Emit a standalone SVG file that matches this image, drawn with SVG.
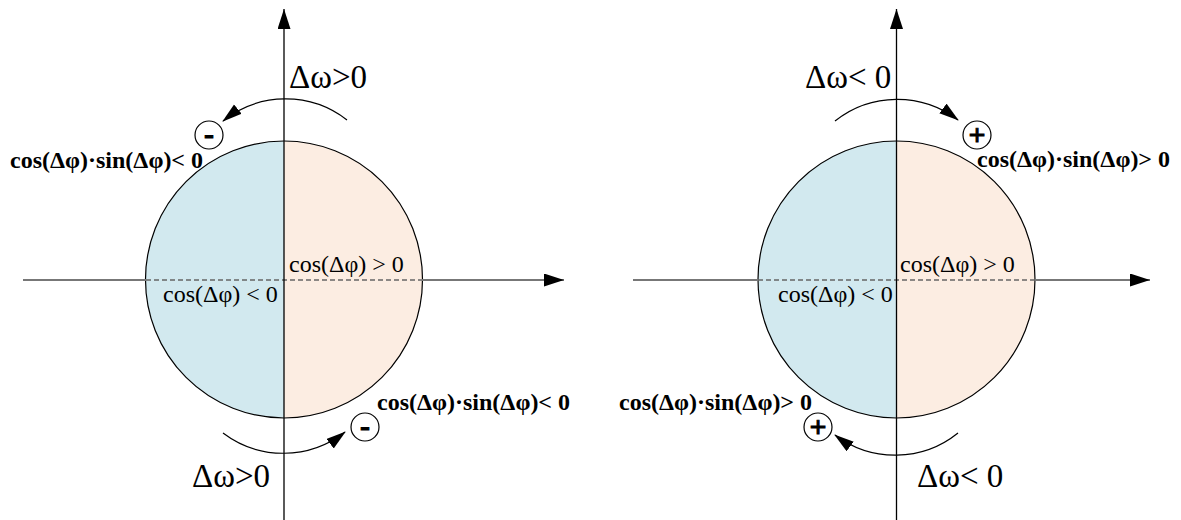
<svg xmlns="http://www.w3.org/2000/svg" width="1181" height="520" viewBox="0 0 1181 520">
<style>
text{font-family:"Liberation Serif","Times New Roman",serif;fill:#000}
.lbl{font-size:24px}
.big{font-size:33px}
.bold{font-size:24px;font-weight:bold}
.sign{font-size:30px;font-weight:bold;text-anchor:middle;stroke:#000;stroke-width:0.9}
.vax{stroke:#000;stroke-width:1.3;fill:none}
.hax{stroke:#777;stroke-width:2;fill:none}
.dash{stroke:#666;stroke-width:1.5;stroke-dasharray:5 3;fill:none}
.arc{stroke:#000;stroke-width:1.2;fill:none}
.ring{stroke:#000;stroke-width:1.2;fill:#fff}
</style>
<defs>
<marker id="ah" markerUnits="userSpaceOnUse" markerWidth="22" markerHeight="16" refX="20" refY="6.5" orient="auto">
<path d="M0,0 L20,6.5 L0,13 Z" fill="#000"/>
</marker>
<marker id="sh" markerUnits="userSpaceOnUse" markerWidth="22" markerHeight="14" refX="19" refY="6" orient="auto">
<path d="M0,0 L20,6 L0,12 Z" fill="#000"/>
</marker>
</defs>

<g id="left-circle">
<path d="M284,141 A138.5,138.5 0 0 0 284,418 Z" fill="#d2e9ef" stroke="none"/>
<path d="M284,141 A138.5,138.5 0 0 1 284,418 Z" fill="#fcede2" stroke="none"/>
<circle cx="284" cy="279.5" r="138.5" fill="none" stroke="#000" stroke-width="1.2"/>
</g>
<g id="right-circle">
<path d="M896.5,141 A138.5,138.5 0 0 0 896.5,418 Z" fill="#d2e9ef" stroke="none"/>
<path d="M896.5,141 A138.5,138.5 0 0 1 896.5,418 Z" fill="#fcede2" stroke="none"/>
<circle cx="896.5" cy="279.5" r="138.5" fill="none" stroke="#000" stroke-width="1.2"/>
</g>

<g id="connectors">
<line class="hax" x1="23" y1="280" x2="146" y2="280"/>
<line class="dash" x1="146" y1="280" x2="422" y2="280"/>
<line class="hax" x1="422" y1="280" x2="564" y2="280" marker-end="url(#ah)"/>
<line class="vax" x1="284" y1="520" x2="284" y2="9" marker-end="url(#ah)"/>

<line class="hax" x1="633" y1="280" x2="758" y2="280"/>
<line class="dash" x1="758" y1="280" x2="1035" y2="280"/>
<line class="hax" x1="1035" y1="280" x2="1150" y2="280" marker-end="url(#ah)"/>
<line class="vax" x1="896.5" y1="520" x2="896.5" y2="9" marker-end="url(#ah)"/>

<path class="arc" d="M347,120 A100,100 0 0 0 223,121" marker-end="url(#sh)"/>
<path class="arc" d="M223,433 A100,100 0 0 0 345,432" marker-end="url(#sh)"/>
<path class="arc" d="M835,121 A100,100 0 0 1 958,120" marker-end="url(#sh)"/>
<path class="arc" d="M958,433 A100,100 0 0 1 835,435" marker-end="url(#sh)"/>
</g>

<g id="sign-tl">
<circle class="ring" cx="209" cy="135" r="14"/>
<text class="sign" x="209" y="144">-</text>
</g>
<g id="sign-bl">
<circle class="ring" cx="365" cy="427" r="14"/>
<text class="sign" x="365" y="436">-</text>
</g>
<g id="sign-tr">
<circle class="ring" cx="977" cy="135" r="14"/>
<text class="sign" x="977" y="145">+</text>
</g>
<g id="sign-br">
<circle class="ring" cx="818" cy="427" r="14"/>
<text class="sign" x="818" y="437">+</text>
</g>

<g id="labels-left">
<text class="big" x="289" y="88">Δω&gt;0</text>
<text class="big" x="192" y="487">Δω&gt;0</text>
<text class="bold" x="10" y="168">cos(Δφ)·sin(Δφ)&lt; 0</text>
<text class="bold" x="377" y="410">cos(Δφ)·sin(Δφ)&lt; 0</text>
<text class="lbl" x="289" y="272">cos(Δφ) &gt; 0</text>
<text class="lbl" x="163" y="302">cos(Δφ) &lt; 0</text>
</g>
<g id="labels-right">
<text class="big" x="805" y="88">Δω&lt; 0</text>
<text class="big" x="917" y="487">Δω&lt; 0</text>
<text class="bold" x="977" y="167">cos(Δφ)·sin(Δφ)&gt; 0</text>
<text class="bold" x="619" y="410">cos(Δφ)·sin(Δφ)&gt; 0</text>
<text class="lbl" x="900" y="272">cos(Δφ) &gt; 0</text>
<text class="lbl" x="778" y="302">cos(Δφ) &lt; 0</text>
</g>
</svg>
